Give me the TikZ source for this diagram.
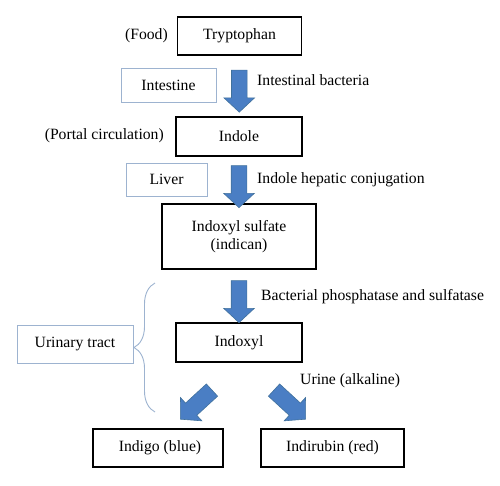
\documentclass[tikz,border=0pt]{standalone}
\usepackage{fontspec}
\setmainfont{Liberation Serif}
\usetikzlibrary{shapes.arrows,calc,decorations.pathreplacing}
\definecolor{flowblue}{HTML}{4A7EC4}
\definecolor{flowedge}{HTML}{41719C}
\definecolor{organedge}{HTML}{9DB3D0}

\begin{document}
\begin{tikzpicture}[x=1pt,y=-1pt,font=\fontsize{15.7}{18}\selectfont,
    box/.style={draw,line width=1.1pt,inner sep=2pt,minimum height=38pt},
    organ/.style={draw=organedge,line width=0.9pt,inner sep=2pt,minimum height=33pt},
    flow/.style={single arrow,fill=flowblue,draw=flowedge,line width=0.6pt,inner xsep=0pt,inner ysep=7.5pt,
      minimum height=42pt,single arrow head extend=7.5pt,single arrow tip angle=94}]
  \useasboundingbox (0,0) rectangle (500,485);
  % compounds
  \node[box,minimum width=124pt](tryp) at (239.5,36){Tryptophan};
  \node[box,minimum width=126pt,minimum height=39pt](indole) at (239,136.5){Indole};
  \node[box,minimum width=154pt,minimum height=65pt,align=center](indican) at (239,236.5){Indoxyl sulfate\\(indican)};
  \node[box,minimum width=126pt,minimum height=39pt](indoxyl) at (239,342.5){Indoxyl};
  \node[box,minimum width=130pt](indigo) at (158,448){\hspace{4pt}Indigo (blue)};
  \node[box,minimum width=143pt](indirubin) at (332.5,448){Indirubin (red)};
  % organs
  \node[organ,minimum width=95pt,minimum height=34pt](intestine) at (168.5,85){Intestine};
  \node[organ,minimum width=81pt](liver) at (166.5,179.5){Liver};
  \node[organ,minimum width=116pt,minimum height=38pt](urinary) at (75,344){Urinary tract};
  % side notes
  \node[anchor=east,inner sep=0pt](food) at (168,36){(Food)};
  \node[anchor=east,inner sep=0pt](portal) at (164,136){(Portal circulation)};
  \node[anchor=west,inner sep=0pt](bact) at (257,80){Intestinal bacteria};
  \node[anchor=west,inner sep=0pt](hepatic) at (257,180){Indole hepatic conjugation};
  \node[anchor=west,inner sep=0pt](phos) at (261,297){Bacterial phosphatase and sulfatase};
  \node[anchor=west,inner sep=0pt](urine) at (300,381){Urine (alkaline)};
  % block arrows
  \node[flow,rotate=-90](a1) at ($(tryp.south)!0.5!(indole.north)+(0,1.5)$){};
  \node[flow,rotate=-90](a2) at ($(indole.south)!0.5!(indican.north)+(0,3)$){};
  \node[flow,rotate=-90](a3) at ($(indican.south)!0.5!(indoxyl.north)+(0,2)$){};
  \node[flow,rotate=-137.4,minimum height=43pt,inner ysep=8pt](a4) at (199,402){};
  \node[flow,rotate=-42.6,minimum height=43pt,inner ysep=8pt](a5) at (287,402){};
  % brace
  \coordinate (bb) at (155,412);
  \coordinate (bt) at (155,283);
  \draw[organedge,line width=0.9pt,decorate,decoration={brace,amplitude=21pt}] (bb) -- (bt);
\end{tikzpicture}
\end{document}
